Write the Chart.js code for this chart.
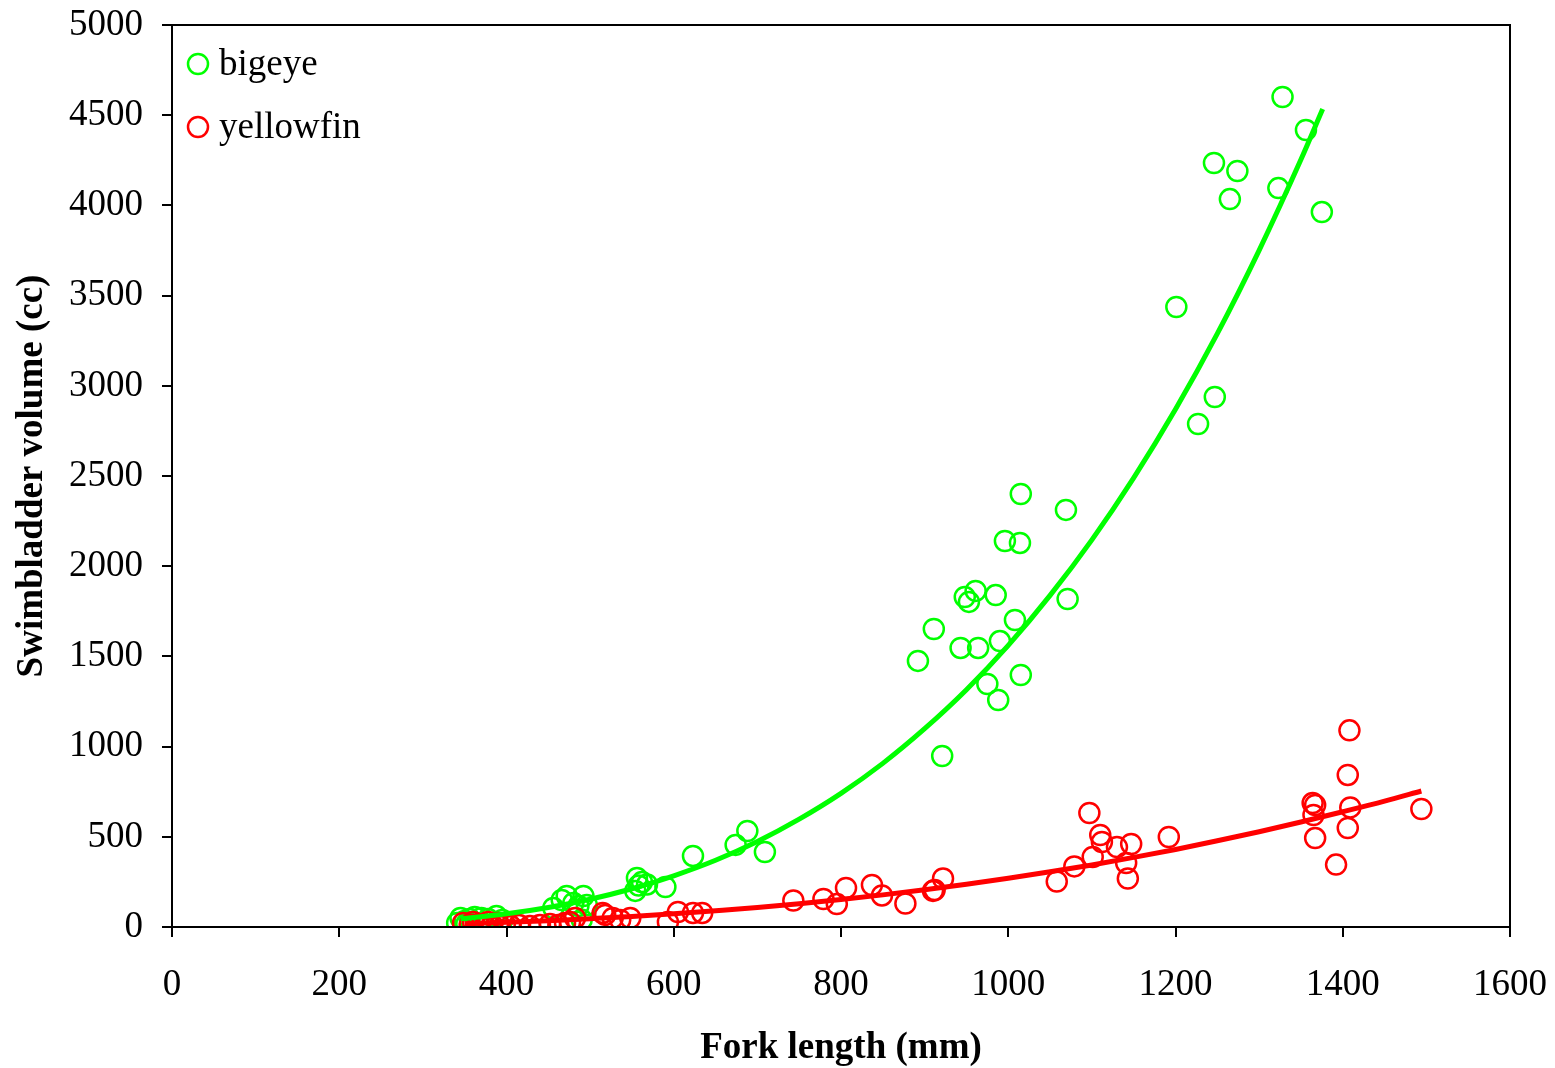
<!DOCTYPE html>
<html>
<head>
<meta charset="utf-8">
<script src="https://cdn.jsdelivr.net/npm/chart.js@4.4.1/dist/chart.umd.min.js"></script>
<style>
  html, body { margin: 0; padding: 0; background: #fff; }
  #wrap { width: 1555px; height: 1068px; position: relative; }
</style>
</head>
<body>
<div id="wrap"><canvas id="chart"></canvas></div>
<script>
// bigeye measurements (fork length mm, swimbladder volume cc)
const bigeyeLength = [1328, 1356, 1246, 1274, 1323, 1265, 1375, 1201, 1247, 1227,
  1015, 1069, 996, 1014, 961, 985, 948, 953, 1071, 1008, 911, 990, 943, 964, 892, 1015, 975, 988, 921,
  688, 674, 709, 623, 556, 562, 568, 554, 590, 558,
  456, 466, 472, 480, 492, 496, 486, 490,
  341, 345, 350, 356, 362, 370, 378, 388, 395, 352];
const bigeyeVolume = [4601, 4418, 4235, 4191, 4096, 4035, 3963, 3437, 2938, 2788,
  2400, 2312, 2140, 2129, 1863, 1840, 1829, 1802, 1818, 1702, 1652, 1585, 1547, 1547, 1475, 1397, 1347, 1258, 948,
  532, 455, 416, 394, 272, 249, 236, 200, 222, 230,
  105, 150, 172, 133, 172, 122, 116, 40,
  22, 50, 33, 44, 55, 50, 44, 61, 39, 17];

// yellowfin measurements
const yellowfinLength = [1408, 1406, 1097, 1364, 1367, 1365, 1409, 1494, 1192, 1110, 1112, 1130, 1147,
  1101, 1079, 1058, 1141, 1143, 1367, 1392, 1406,
  922, 912, 910, 877, 849, 837, 806, 795, 779, 743,
  634, 623, 605, 593, 548, 536, 527, 518, 515,
  482, 476, 470, 462, 452, 440, 428, 415, 405, 398, 390, 383, 374, 366, 356, 348, 360, 378, 392];
const yellowfinVolume = [1090, 843, 632, 687, 676, 621, 663, 654, 499, 510, 471, 443, 460,
  388, 336, 252, 355, 269, 493, 346, 549,
  269, 205, 200, 130, 175, 233, 216, 127, 155, 147,
  78, 78, 83, 28, 50, 39, 50, 67, 78,
  50, 28, 22, 11, 17, 11, 6, 11, 6, 17, 22, 11, 6, 17, 11, 22, 28, 28, 6];

// trend curves
const bigeyeFitLength = [345, 400, 450, 500, 550, 600, 650, 700, 750, 800, 850, 900, 950,
  1000, 1050, 1100, 1150, 1200, 1250, 1300, 1350, 1376];
const bigeyeFitVolume = [45, 73, 108, 154, 212, 284, 370, 474, 598, 741, 907, 1099, 1315,
  1561, 1838, 2146, 2490, 2870, 3289, 3751, 4254, 4534];
const yellowfinFitLength = [350, 400, 450, 500, 550, 600, 650, 700, 750, 800, 850, 900, 950,
  1000, 1050, 1100, 1150, 1200, 1250, 1300, 1350, 1400, 1450, 1494];
const yellowfinFitVolume = [18, 26, 35, 46, 58, 73, 90, 108, 129, 152, 178, 206, 237,
  270, 306, 344, 386, 430, 478, 528, 582, 639, 698, 754];

const legendOrder = ['bigeye', 'yellowfin'];

const GREEN = '#00ff00';
const RED = '#ff0000';
const SERIF = "'Liberation Serif', 'Times New Roman', serif";

function toPoints(xs, ys) {
  return xs.map((x, i) => ({ x: x, y: ys[i] }));
}

// cadre noir autour de la zone de tracé
const frame = {
  id: 'frame',
  afterDatasetsDraw(chart) {
    const a = chart.chartArea;
    const ctx = chart.ctx;
    ctx.save();
    ctx.strokeStyle = '#000';
    ctx.lineWidth = 2;
    ctx.strokeRect(a.left, a.top, a.right - a.left, a.bottom - a.top);
    ctx.restore();
  }
};

// légende dans le coin haut gauche
const insideLegend = {
  id: 'insideLegend',
  afterDraw(chart) {
    const a = chart.chartArea;
    const ctx = chart.ctx;
    ctx.save();
    ctx.font = '37px ' + SERIF;
    ctx.textBaseline = 'middle';
    ctx.fillStyle = '#000';
    legendOrder.forEach((name, i) => {
      const d = chart.data.datasets.find(s => s.type === 'scatter' && s.label === name);
      const y = a.top + 39 + i * 63;
      ctx.beginPath();
      ctx.arc(a.left + 26, y, 10, 0, Math.PI * 2);
      ctx.strokeStyle = d.borderColor;
      ctx.lineWidth = 2.5;
      ctx.stroke();
      ctx.fillText(d.label, a.left + 47, y + 1);
    });
    ctx.restore();
  }
};

const ctx = document.getElementById('chart').getContext('2d');
new Chart(ctx, {
  data: {
    datasets: [
      {
        type: 'line', label: 'yellowfin fit', order: 0,
        data: toPoints(yellowfinFitLength, yellowfinFitVolume),
        borderColor: RED, borderWidth: 5, pointRadius: 0, fill: false,
        cubicInterpolationMode: 'monotone'
      },
      {
        type: 'line', label: 'bigeye fit', order: 1,
        data: toPoints(bigeyeFitLength, bigeyeFitVolume),
        borderColor: GREEN, borderWidth: 5, pointRadius: 0, fill: false,
        cubicInterpolationMode: 'monotone'
      },
      {
        type: 'scatter', label: 'yellowfin', order: 2,
        data: toPoints(yellowfinLength, yellowfinVolume),
        borderColor: RED, backgroundColor: 'rgba(0,0,0,0)',
        pointRadius: 10, borderWidth: 2.5, pointStyle: 'circle'
      },
      {
        type: 'scatter', label: 'bigeye', order: 3,
        data: toPoints(bigeyeLength, bigeyeVolume),
        borderColor: GREEN, backgroundColor: 'rgba(0,0,0,0)',
        pointRadius: 10, borderWidth: 2.5, pointStyle: 'circle'
      }
    ]
  },
  options: {
    responsive: true,
    maintainAspectRatio: false,
    animation: false,
    layout: { padding: { top: 25, right: 45, left: 0, bottom: 0 } },
    plugins: {
      legend: { display: false },
      tooltip: { enabled: false }
    },
    scales: {
      x: {
        type: 'linear',
        position: 'bottom',
        min: 0,
        max: 1600,
        ticks: {
          stepSize: 200, color: '#000', padding: 26,
          font: { family: SERIF, size: 37 },
          callback: v => String(v)
        },
        grid: { drawOnChartArea: false, tickLength: 10, color: '#000', lineWidth: 2 },
        border: { color: '#000', width: 2 },
        title: {
          display: true,
          text: 'Fork length (mm)',
          color: '#000',
          font: { family: SERIF, size: 37, weight: 'bold', lineHeight: 1 },
          padding: { top: 0, bottom: 1 }
        },
        afterFit: function(scale) {
          scale.height = 141;
          scale.paddingLeft = 0;
          scale.paddingRight = 0;
        }
      },
      y: {
        type: 'linear',
        min: 0,
        max: 5000,
        ticks: {
          stepSize: 500, color: '#000', padding: 19,
          font: { family: SERIF, size: 37 },
          callback: v => String(v)
        },
        grid: { drawOnChartArea: false, tickLength: 10, color: '#000', lineWidth: 2 },
        border: { color: '#000', width: 2 },
        title: {
          display: true,
          text: 'Swimbladder volume (cc)',
          color: '#000',
          font: { family: SERIF, size: 37, weight: 'bold', lineHeight: 1 },
          padding: { top: 14, bottom: 0 }
        },
        afterFit: function(scale) {
          scale.width = 172;
          scale.paddingTop = 0;
          scale.paddingBottom = 0;
        }
      }
    }
  },
  plugins: [frame, insideLegend]
});
</script>
</body>
</html>
